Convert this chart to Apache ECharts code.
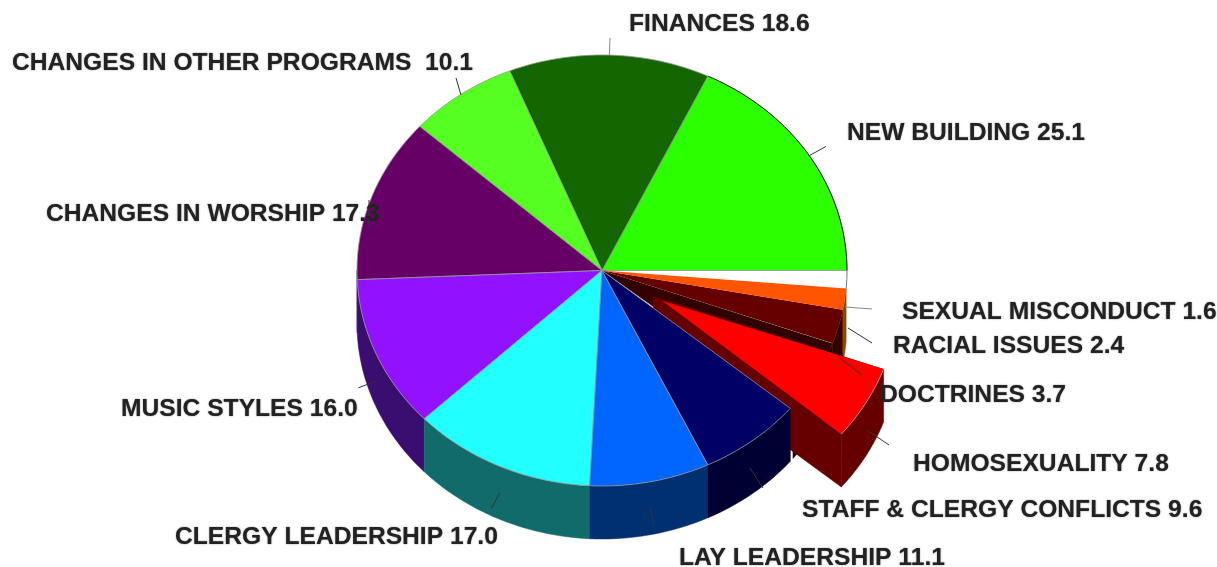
<!DOCTYPE html>
<html>
<head>
<meta charset="utf-8">
<style>html,body{margin:0;padding:0;background:#fff}#c{width:1217px;height:567px}</style>
<script src="https://cdn.jsdelivr.net/npm/echarts@6/dist/echarts.min.js"></script>
</head>
<body>
<div id="c"></div>
<script>
// ---- data ----
const categories = ['NEW BUILDING','FINANCES','CHANGES IN OTHER PROGRAMS ','CHANGES IN WORSHIP','MUSIC STYLES','CLERGY LEADERSHIP','LAY LEADERSHIP','STAFF & CLERGY CONFLICTS','HOMOSEXUALITY','DOCTRINES','RACIAL ISSUES','SEXUAL MISCONDUCT'];
const values = [25.1,18.6,10.1,17.3,16.0,17.0,11.1,9.6,7.8,3.7,2.4,1.6];
const valueLabels = ['25.1','18.6','10.1','17.3','16.0','17.0','11.1','9.6','7.8','3.7','2.4','1.6'];

// ---- styling ----
const topColors = ['#2cff00','#146600','#55ff22','#660066','#9211ff','#22ffff','#0066ff','#000066','#ff0000','#330000','#660000','#ff5500'];
const wallColors = ['#146600','#0a3300','#2a8011','#330066','#3a0d70','#116b6b','#003070','#000033','#660000','#220000','#330000','#8a4a00'];
const labelX = [847,629,12,46,121,175,679,802,913,880,893,902];
const labelY = [133,24,63,214,409,537,558,510,464,395,346,312];
const explode = {8:0.24};
const apexExplode = {8:0.285};
const sliver = {9:{end:340.2,stretch:2.0},10:{end:349.5,stretch:1.5},11:{end:355.2,stretch:1.39}};
const noStroke = {8:true,9:true,10:true,11:true};
const leaderOverride = {
  2:[461,95,456,78],
  3:[369,227,369,200],
  7:[750,468,763,488],
  8:[867,430,889,445],
  9:[840,358,862,375],
  10:[848,328,872,343],
  11:[845,307,872,309]
};
const drawOrder = [0,1,2,3,4,5,9,10,11,8,6,7];
const DEPTH = 53/215.5;
const FONT = '"Liberation Sans", Arial, sans-serif';

const total = values.reduce((a,b)=>a+b,0);
const spans = values.map(v=>v/total*360);
const starts = [];
spans.reduce((s,v,i)=>{starts[i]=s;return s+v;},0);
const rows = drawOrder.map(i=>{
  let a0=starts[i], a1=starts[i]+spans[i];
  if(sliver[i]){a1=sliver[i].end;a0=a1-spans[i]*sliver[i].stretch;}
  return [a0,a1,i];
});
const rad=d=>d*Math.PI/180;

function renderSlice(params,api){
  const a0=api.value(0),a1=api.value(1),i=api.value(2);
  const f=explode[i]||0, g=apexExplode[i]||f;
  const cm=Math.cos(rad((a0+a1)/2)), sm=Math.sin(rad((a0+a1)/2));
  const ox=cm*f, oy=sm*f;
  const P=(a,d)=>api.coord([ox+Math.cos(rad(a)),oy+Math.sin(rad(a))-(d||0)]);
  const arc=(s,e,d)=>{const out=[];const n=Math.max(2,Math.ceil((e-s)/1.5));for(let k=0;k<=n;k++)out.push(P(s+(e-s)*k/n,d));return out;};
  const apex=d=>api.coord([ox,oy-(d||0)]);
  const apexTop=api.coord([cm*g,sm*g]);
  const children=[];
  const ws=Math.max(a0,180), we=Math.min(a1,360);
  if(we>ws){
    const top=arc(ws,we,0), bot=arc(ws,we,DEPTH).reverse();
    children.push({type:'polygon',shape:{points:top.concat(bot)},style:{fill:wallColors[i],stroke:wallColors[i],lineWidth:0.5}});
    if(f>0){
      children.push({type:'polygon',shape:{points:[apex(0),P(a0,0),P(a0,DEPTH),apex(DEPTH)]},style:{fill:wallColors[i],stroke:wallColors[i],lineWidth:0.5}});
      children.push({type:'polygon',shape:{points:[apex(0)].concat(arc(a0,a1,0))},style:{fill:wallColors[i]}});
    }
  }
  const face=[apexTop].concat(arc(a0,a1,0));
  children.push({type:'polygon',shape:{points:face},style:noStroke[i]?{fill:topColors[i]}:{fill:topColors[i],stroke:'rgba(150,150,150,0.8)',lineWidth:1}});
  if(i===0){
    children.push({type:'polyline',shape:{points:arc(a0,a1,0)},style:{fill:null,stroke:'#222',lineWidth:1}});
  }
  if(i===8){
    children.push({type:'polyline',shape:{points:arc(a0,a1,0)},style:{fill:null,stroke:'rgba(170,170,170,0.8)',lineWidth:1}});
  }
  if(i===11){
    children.push({type:'polyline',shape:{points:arc(a1,360,0)},style:{fill:null,stroke:'#777',lineWidth:1}});
  }
  return {type:'group',children};
}

function renderTick(params,api){
  const a0=api.value(0),a1=api.value(1),i=api.value(2);
  const mid=(a0+a1)/2;
  const c=Math.cos(rad(mid)), s=Math.sin(rad(mid));
  const d=s<0?DEPTH/2:0;
  let p0=api.coord([c,s-d]);
  let p1=api.coord([c*1.08,s*1.08-d]);
  const o=leaderOverride[i];
  if(o){p0=[o[0],o[1]];p1=[o[2],o[3]];}
  return {type:'line',shape:{x1:p0[0],y1:p0[1],x2:p1[0],y2:p1[1]},style:{stroke:i===1||i===11?'#888':'#333',lineWidth:1}};
}

function renderLabel(params,api){
  const i=api.value(2);
  return {type:'text',x:labelX[i],y:labelY[i],scaleX:1.08,scaleY:1.06,style:{text:categories[i]+' '+valueLabels[i],fontFamily:FONT,fontWeight:'bold',fontSize:22.8,fill:'#222',textAlign:'left',textVerticalAlign:'middle',textShadowColor:'rgba(60,60,60,0.7)',textShadowBlur:1.5}};
}

const chart=echarts.init(document.getElementById('c'),null,{renderer:'canvas'});
chart.setOption({
  animation:false,
  backgroundColor:'#fff',
  grid:{left:357,top:55,width:490,height:431},
  xAxis:{type:'value',min:-1,max:1,show:false},
  yAxis:{type:'value',min:-1,max:1,show:false},
  tooltip:{show:false},
  series:[
    {type:'custom',coordinateSystem:'cartesian2d',clip:false,silent:true,z:2,renderItem:renderSlice,data:rows,encode:{x:0,y:1}},
    {type:'custom',coordinateSystem:'cartesian2d',clip:false,silent:true,z:3,renderItem:renderTick,data:rows,encode:{x:0,y:1}},
    {type:'custom',coordinateSystem:'cartesian2d',clip:false,silent:true,z:4,renderItem:renderLabel,data:rows,encode:{x:0,y:1}}
  ]
});
</script>
</body>
</html>
